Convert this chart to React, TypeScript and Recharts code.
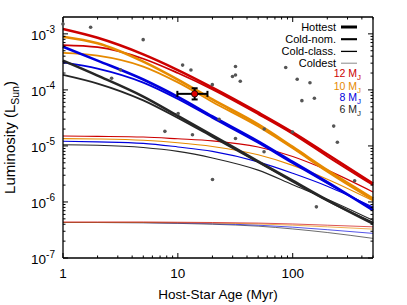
import React from 'react';
import { ComposedChart, Line, Scatter, XAxis, YAxis, ErrorBar } from 'recharts';

const ages = [1, 2, 5, 10, 20, 50, 100, 200, 500];

const redHot = [1.22e-3, 8.5e-4, 4.3e-4, 2.26e-4, 1.1e-4, 3.96e-5, 1.75e-5, 7.1e-6, 2.13e-6];
const redNom = [6.3e-4, 5.8e-4, 3.6e-4, 2.0e-4, 1.02e-4, 3.7e-5, 1.64e-5, 6.5e-6, 2.0e-6];
const redClass = [1.5e-5, 1.48e-5, 1.44e-5, 1.34e-5, 1.23e-5, 9.6e-6, 6.5e-6, 3.7e-6, 1.51e-6];
const redCold = [4.4e-7, 4.4e-7, 4.4e-7, 4.35e-7, 4.3e-7, 4.2e-7, 4.05e-7, 3.85e-7, 3.6e-7];

const orangeHot = [8.9e-4, 6.8e-4, 3.2e-4, 1.53e-4, 6.75e-5, 2.42e-5, 9.6e-6, 3.7e-6, 1.15e-6];
const orangeNom = [4.57e-4, 4.09e-4, 2.61e-4, 1.36e-4, 6.1e-5, 2.23e-5, 9.1e-6, 3.46e-6, 1.08e-6];
const orangeClass = [1.35e-5, 1.33e-5, 1.26e-5, 1.14e-5, 9.8e-6, 6.95e-6, 4.5e-6, 2.55e-6, 1.05e-6];
const orangeCold = [4.3e-7, 4.3e-7, 4.3e-7, 4.25e-7, 4.2e-7, 4.05e-7, 3.85e-7, 3.6e-7, 3.28e-7];

const blueHot = [5.9e-4, 3.33e-4, 1.53e-4, 7.5e-5, 3.37e-5, 1.21e-5, 5.2e-6, 2.25e-6, 7.1e-7];
const blueNom = [3.1e-4, 2.4e-4, 1.35e-4, 6.9e-5, 3.16e-5, 1.14e-5, 4.9e-6, 2.16e-6, 7.6e-7];
const blueClass = [1.21e-5, 1.18e-5, 1.11e-5, 9.6e-6, 8.0e-6, 5.2e-6, 3.25e-6, 1.91e-6, 8.1e-7];
const blueCold = [4.3e-7, 4.3e-7, 4.28e-7, 4.2e-7, 4.1e-7, 3.85e-7, 3.55e-7, 3.2e-7, 2.75e-7];

const blackHot = [3.33e-4, 1.8e-4, 7.6e-5, 3.44e-5, 1.55e-5, 5.3e-6, 2.4e-6, 1.08e-6, 4.1e-7];
const blackNom = [1.86e-4, 1.3e-4, 6.5e-5, 3.16e-5, 1.45e-5, 5.1e-6, 2.3e-6, 1.05e-6, 4.3e-7];
const blackClass = [1.05e-5, 1.03e-5, 9.4e-6, 8.0e-6, 6.1e-6, 3.7e-6, 2.03e-6, 1.12e-6, 4.7e-7];
const blackCold = [4.3e-7, 4.3e-7, 4.25e-7, 4.15e-7, 4.0e-7, 3.7e-7, 3.3e-7, 2.85e-7, 2.24e-7];

const starAges = [1.0, 1.74, 4.99, 11.0, 13.0, 3.16, 2.65, 19.95, 10.06, 7.71, 13.4, 31.75, 29.9, 31.75, 34.95, 86.9, 109.4, 141.3, 120.2, 154.4, 22.86, 56.5, 31.75, 99.6, 227.4, 244.8, 56.3, 346, 160.7, 20.03];
const starLums = [1.5e-3, 1.31e-3, 7.88e-4, 2.77e-4, 2.26e-4, 2.28e-4, 1.61e-4, 1.24e-4, 3.8e-5, 1.82e-5, 1.58e-5, 2.61e-4, 1.73e-4, 1.84e-4, 1.43e-4, 2.51e-4, 1.55e-4, 1.34e-4, 6.43e-5, 7.11e-5, 3.0e-5, 2.0e-5, 1.36e-5, 1.77e-5, 2.26e-5, 1.16e-5, 7.85e-6, 2.39e-6, 8.19e-7, 2.51e-6];

const targetAge = 14;
const targetLum = 8.5e-5;
const targetAgeErr = [4.1, 4.1];
const targetLumErr = [1.75e-5, 2.2e-5];

const xTicks = [1, 2, 3, 4, 5, 6, 7, 8, 9, 10, 20, 30, 40, 50, 60, 70, 80, 90, 100, 200, 300, 400, 500];
const yMajor = [1e-7, 1e-6, 1e-5, 1e-4, 1e-3];
const yMantissa = [1, 2, 3, 4, 5, 6, 7, 8, 9];
const yTicks = yMajor.flatMap((m) => (m === 1e-3 ? [m] : yMantissa.map((k) => k * m)));

const legendStyles = ['Hottest', 'Cold-nom.', 'Cold-class.', 'Coldest'];
const massLabels = ['12', '10', '8', '6'];

const RED = '#cc0000';
const ORANGE = '#e68a00';
const BLUE = '#0000dd';
const BLACK = '#262626';
const FONT = '"Liberation Sans", Arial, Helvetica, sans-serif';

const massColors = [RED, ORANGE, BLUE, BLACK];

const chartData = ages.map((a, i) => ({
  age: a,
  redHot: redHot[i], redNom: redNom[i], redClass: redClass[i], redCold: redCold[i],
  orangeHot: orangeHot[i], orangeNom: orangeNom[i], orangeClass: orangeClass[i], orangeCold: orangeCold[i],
  blueHot: blueHot[i], blueNom: blueNom[i], blueClass: blueClass[i], blueCold: blueCold[i],
  blackHot: blackHot[i], blackNom: blackNom[i], blackClass: blackClass[i], blackCold: blackCold[i],
}));

const starData = starAges.map((a, i) => ({ age: a, lum: starLums[i] }));
const targetData = [{ age: targetAge, lum: targetLum, ageErr: targetAgeErr, lumErr: targetLumErr }];

const isMajor = (v: number) => Math.abs(Math.log10(v) - Math.round(Math.log10(v))) < 1e-6;
const MAJ = 5;
const MIN = 2.5;

const BottomTick = (p: any) => {
  const { x, y, payload } = p;
  const v = payload.value;
  const maj = isMajor(v);
  return (
    <g>
      <line x1={x} x2={x} y1={y} y2={y - (maj ? MAJ : MIN)} stroke="#000" strokeWidth={1} />
      {maj && (
        <text x={x} y={y + 20} textAnchor="middle" fontSize={13.5} fontFamily={FONT} fill="#000">
          {String(v)}
        </text>
      )}
    </g>
  );
};

const TopTick = (p: any) => {
  const { x, y, payload } = p;
  const maj = isMajor(payload.value);
  return <line x1={x} x2={x} y1={y} y2={y + (maj ? MAJ : MIN)} stroke="#000" strokeWidth={1} />;
};

const LeftTick = (p: any) => {
  const { x, y, payload } = p;
  const v = payload.value;
  const maj = isMajor(v);
  return (
    <g>
      <line x1={x} x2={x + (maj ? MAJ : MIN)} y1={y} y2={y} stroke="#000" strokeWidth={1} />
      {maj && (
        <text x={x - 8} y={y + 6} textAnchor="end" fontFamily={FONT} fill="#000">
          <tspan fontSize={13.5}>10</tspan>
          <tspan fontSize={10} dy={-6.5}>{String(Math.round(Math.log10(v)))}</tspan>
        </text>
      )}
    </g>
  );
};

const RightTick = (p: any) => {
  const { x, y, payload } = p;
  const maj = isMajor(payload.value);
  return <line x1={x} x2={x - (maj ? MAJ : MIN)} y1={y} y2={y} stroke="#000" strokeWidth={1} />;
};

const GreyDot = (p: any) => <circle cx={p.cx} cy={p.cy} r={1.8} fill="#555" />;
const RedDot = (p: any) => <circle cx={p.cx} cy={p.cy} r={3.2} fill="#e00000" stroke="#000" strokeWidth={0.8} />;

type S = { key: string; color: string; width: number; opacity: number };
const masses = ['black', 'blue', 'orange', 'red'];
const colorOf: Record<string, string> = { red: RED, orange: ORANGE, blue: BLUE, black: BLACK };
const styleDefs = [
  { suffix: 'Cold', width: 0.9, opacity: 0.75 },
  { suffix: 'Class', width: 1.1, opacity: 1 },
  { suffix: 'Nom', width: 1.8, opacity: 1 },
  { suffix: 'Hot', width: 2.6, opacity: 1 },
];
const series: S[] = styleDefs.flatMap((s) =>
  masses.map((m) => ({ key: m + s.suffix, color: colorOf[m], width: s.width, opacity: s.opacity }))
);

const axisLine = { stroke: '#000', strokeWidth: 1.3 };

export default function App() {
  return (
    <div style={{ position: 'absolute', left: 0, top: 0, width: 407, height: 305, background: '#fff' }}>
      <ComposedChart width={407} height={305} data={chartData} margin={{ top: 0, right: 0, bottom: 0, left: 0 }}>
        <XAxis
          dataKey="age" type="number" scale="log" domain={[1, 500]} ticks={xTicks} interval={0}
          tick={BottomTick} tickLine={false} tickSize={0} tickMargin={0} axisLine={axisLine} height={47}
        />
        <XAxis
          xAxisId="top" orientation="top" dataKey="age" type="number" scale="log" domain={[1, 500]}
          allowDataOverflow ticks={xTicks} interval={0} tick={TopTick} tickLine={false} tickSize={0}
          tickMargin={0} axisLine={axisLine} height={17}
        />
        <YAxis
          type="number" scale="log" domain={[1e-7, 2e-3]} ticks={yTicks} interval={0}
          tick={LeftTick} tickLine={false} tickSize={0} tickMargin={0} axisLine={axisLine} width={63}
        />
        <YAxis
          yAxisId="right" orientation="right" type="number" scale="log" domain={[1e-7, 2e-3]}
          allowDataOverflow ticks={yTicks} interval={0} tick={RightTick} tickLine={false} tickSize={0}
          tickMargin={0} axisLine={axisLine} width={34}
        />
        {series.map((s) => (
          <Line
            key={s.key} dataKey={s.key} type="monotone" stroke={s.color} strokeWidth={s.width}
            strokeOpacity={s.opacity} dot={false} activeDot={false} isAnimationActive={false}
          />
        ))}
        <Scatter data={starData} dataKey="lum" shape={GreyDot} isAnimationActive={false} />
        <Scatter data={targetData} dataKey="lum" shape={RedDot} isAnimationActive={false}>
          <ErrorBar dataKey="ageErr" direction="x" width={3} stroke="#000" strokeWidth={2} />
          <ErrorBar dataKey="lumErr" direction="y" width={3} stroke="#000" strokeWidth={2} />
        </Scatter>
      </ComposedChart>
      <svg width={407} height={305} style={{ position: 'absolute', left: 0, top: 0, pointerEvents: 'none' }}>
        <g fontFamily={FONT} fill="#000">
          {legendStyles.map((t, i) => {
            const base = [31, 43.2, 55.4, 67.2][i];
            const w = [3, 2.1, 1.3, 1][i];
            const c = i === 3 ? '#888' : '#000';
            return (
              <g key={t}>
                <text x={336} y={base} textAnchor="end" fontSize={11}>{t}</text>
                <line x1={341} x2={357} y1={base - 4} y2={base - 4} stroke={c} strokeWidth={w} />
              </g>
            );
          })}
          {massLabels.map((m, i) => {
            const base = [77.2, 89.7, 101.4, 113][i];
            return (
              <text key={m} x={361} y={base} textAnchor="end" fill={massColors[i]}>
                <tspan fontSize={10.5}>{m + ' M'}</tspan>
                <tspan fontSize={8} dy={3}>J</tspan>
              </text>
            );
          })}
          <text x={218} y={299} textAnchor="middle" fontSize={13.5}>Host-Star Age (Myr)</text>
          <text x={15} y={137.5} textAnchor="middle" transform="rotate(-90 15 137.5)">
            <tspan fontSize={15}>Luminosity (L</tspan>
            <tspan fontSize={10.5} dy={4}>Sun</tspan>
            <tspan fontSize={15} dy={-4}>)</tspan>
          </text>
        </g>
      </svg>
    </div>
  );
}
